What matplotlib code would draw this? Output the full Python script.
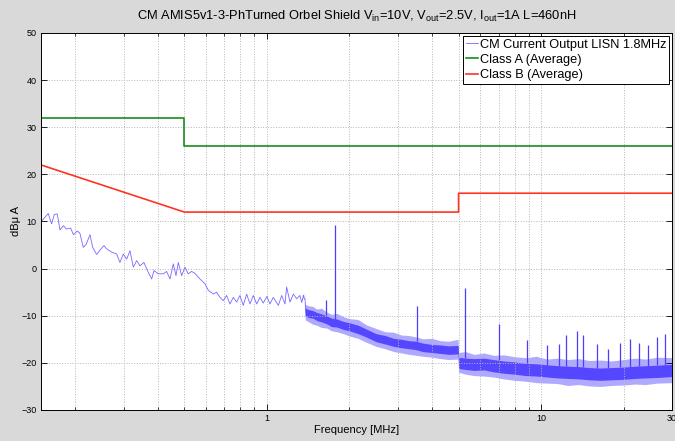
import numpy as np
import matplotlib
matplotlib.use("Agg")
import matplotlib.pyplot as plt
from matplotlib.ticker import FixedLocator, NullFormatter, LogLocator

plt.rcParams['font.family'] = ['Liberation Sans', 'DejaVu Sans']
plt.rcParams['mathtext.fontset'] = 'custom'
plt.rcParams['mathtext.rm'] = 'Liberation Sans'

## limit lines (MHz, dBuA)
classA_f = [0.15, 0.5, 0.5, 30]
classA_db = [32, 32, 26, 26]
classB_f = [0.15, 0.5, 5, 5, 30]
classB_db = [22, 12, 12, 16, 16]

lf_f = [0.15, 0.153, 0.1595, 0.164, 0.1678, 0.172, 0.176, 0.181, 0.186, 0.1924,
        0.197, 0.2035, 0.208, 0.214, 0.219, 0.2264, 0.2315, 0.2394, 0.246, 0.2545,
        0.2603, 0.2715, 0.2833, 0.2911, 0.2994, 0.308, 0.3167, 0.3257, 0.335, 0.3445,
        0.356, 0.3694, 0.380, 0.3876, 0.4018, 0.419, 0.4309, 0.4432, 0.4557, 0.466,
        0.4753, 0.4887, 0.5026, 0.5168, 0.5315, 0.5465, 0.570, 0.5944, 0.6113, 0.6375,
        0.6556, 0.6742, 0.6934, 0.7131, 0.7333, 0.7541, 0.7755, 0.7975, 0.8202, 0.8435,
        0.8674, 0.892, 0.9175, 0.9436, 0.9703, 1.0, 1.026, 1.055, 1.101, 1.132,
        1.164, 1.180, 1.214, 1.249, 1.284, 1.320, 1.34, 1.36, 1.37]
lf_db = [10.0, 10.5, 11.7, 9.5, 11.5, 11.6, 8.2, 9.1, 8.4, 8.6,
         7.2, 8.0, 7.5, 4.5, 5.1, 7.2, 4.5, 3.0, 3.9, 4.9,
         4.2, 3.5, 3.1, 1.3, 3.1, 2.0, 3.8, 0.3, 1.7, 0.6,
         1.3, -0.8, -2.2, -0.4, -1.1, -1.1, -0.6, -2.2, 1.0, -1.5,
         1.3, -1.5, 0.3, -1.1, -0.6, -1.0, -2.2, -3.2, -4.6, -5.4,
         -5.0, -6.1, -6.8, -5.7, -7.5, -6.1, -7.1, -5.7, -7.8, -5.4,
         -7.5, -5.7, -7.5, -6.1, -7.3, -5.9, -7.5, -6.1, -7.8, -5.7,
         -7.5, -3.9, -7.1, -5.4, -6.4, -5.7, -7.2, -5.6, -6.6]

## dense high frequency part: noise band (outer / inner envelopes)
hf_f = [1.37, 1.38, 1.42, 1.47, 1.52, 1.58, 1.65, 1.72, 1.80, 1.9,
        2.0, 2.15, 2.3, 2.5, 2.7, 2.9, 3.1, 3.3, 3.5, 3.7,
        4.0, 4.3, 4.6, 4.98, 5.0, 5.3, 5.7, 6.2, 6.7, 7.3,
        8.0, 8.8, 9.6, 10.5, 11.5, 12.5, 13.7, 15.0, 16.5, 18.0,
        20.0, 22.0, 24.0, 26.5, 30.0]
hf_inner_lo = [-7.4, -10.0, -10.4, -10.5, -11.0, -11.3, -11.7, -12.3, -12.4, -12.9,
               -13.2, -13.8, -14.5, -15.5, -16.0, -16.5, -16.8, -17.0, -17.2, -17.6,
               -17.8, -18.0, -18.2, -18.1, -21.2, -21.4, -21.6, -21.5, -21.9, -22.2,
               -22.4, -22.7, -22.8, -23.0, -23.2, -23.3, -23.4, -23.6, -23.7, -23.6,
               -23.5, -23.3, -23.2, -23.1, -22.9]
hf_inner_hi = [-5.6, -8.4, -8.7, -8.9, -9.3, -9.6, -10.0, -10.5, -10.7, -11.2,
               -11.5, -12.0, -12.8, -13.8, -14.2, -14.8, -15.0, -15.3, -15.4, -15.8,
               -16.1, -16.2, -16.4, -16.3, -18.8, -19.0, -19.1, -19.0, -19.3, -19.6,
               -19.8, -20.1, -20.2, -20.4, -20.6, -20.7, -20.8, -21.0, -21.1, -21.0,
               -20.9, -20.7, -20.6, -20.5, -20.3]
hf_outer_lo = [-8.2, -10.9, -11.3, -11.8, -12.0, -12.5, -12.6, -13.2, -13.4, -13.8,
               -14.3, -14.8, -15.6, -16.5, -17.0, -17.6, -17.9, -18.2, -18.4, -18.6,
               -18.8, -19.1, -19.3, -19.2, -22.0, -22.4, -22.7, -22.8, -23.0, -23.4,
               -23.7, -23.9, -24.2, -24.3, -24.4, -24.8, -24.6, -24.9, -25.0, -24.8,
               -24.7, -24.5, -24.6, -24.3, -24.2]
hf_outer_hi = [-4.8, -7.6, -7.9, -8.0, -8.6, -8.4, -9.2, -9.7, -9.5, -10.2,
               -10.6, -10.8, -11.9, -12.7, -13.4, -13.5, -14.1, -14.2, -14.5, -14.9,
               -14.8, -15.3, -15.4, -15.0, -17.8, -17.6, -18.2, -17.9, -18.4, -18.3,
               -18.7, -18.9, -18.6, -19.2, -19.0, -19.3, -19.1, -19.5, -19.4, -19.6,
               -19.3, -19.0, -19.2, -18.8, -18.9]

## narrow spurs
spur_f = [1.64, 1.77, 3.52, 5.28, 7.04, 8.86, 10.5, 11.65, 12.3, 13.55,
          14.2, 15.95, 17.6, 19.4, 21.1, 22.8, 24.6, 26.4, 28.3]
spur_db = [-6.7, 9.2, -7.9, -4.2, -11.8, -15.1, -16.2, -16.0, -14.1, -13.3,
           -14.1, -16.1, -17.0, -15.7, -14.9, -15.7, -16.2, -14.6, -13.9]

blue = '#4b3cff'
fig = plt.figure(figsize=(6.75, 4.41), dpi=100, facecolor='#d9d9d9')
ax = fig.add_axes([0.0607, 0.0703, 0.9348, 0.8549])

ax.plot(lf_f, lf_db, color='#7668ff', lw=0.6, label='CM Current Output LISN 1.8MHz')
ax.fill_between(hf_f, hf_outer_lo, hf_outer_hi, color='#b0aaff', lw=0)
ax.fill_between(hf_f, hf_inner_lo, hf_inner_hi, color=blue, lw=0, alpha=0.9)
base = np.interp(np.log10(spur_f), np.log10(hf_f), hf_inner_hi)
ax.vlines(spur_f, base, spur_db, color=blue, lw=0.9)

ax.plot(classA_f, classA_db, color='#1a8c1a', lw=1.2, label='Class A (Average)')
ax.plot(classB_f, classB_db, color='#ff3322', lw=1.2, label='Class B (Average)')

ax.set_xscale('log')
ax.set_xlim(0.15, 30)
ax.set_ylim(-30, 50)
ax.set_yticks(np.arange(-30, 51, 10))
ax.xaxis.set_major_locator(FixedLocator([1, 10, 30]))
ax.set_xticklabels(['1', '10', '30'])
ax.xaxis.set_minor_locator(LogLocator(base=10, subs=np.arange(2, 10)))
ax.xaxis.set_minor_formatter(NullFormatter())
ax.tick_params(which='both', direction='in', top=True, right=True, labelsize=6.5, pad=3)
ax.tick_params(which='major', length=4, width=0.6)
ax.tick_params(which='minor', length=2, width=0.5)
ax.grid(True, which='both', axis='x', ls=':', color='#b5b5b5', lw=0.7)
ax.grid(True, which='major', axis='y', ls=':', color='#b5b5b5', lw=0.7)
for s in ax.spines.values():
    s.set_linewidth(0.7)

ax.set_xlabel('Frequency [MHz]', fontsize=8, labelpad=1)
ax.set_ylabel('dBμ A', fontsize=8)
ax.yaxis.set_label_coords(-0.032, 0.5)
ax.set_title(r'CM AMIS5v1-3-PhTurned Orbel Shield V$_{\mathrm{in}}$=10V, V$_{\mathrm{out}}$=2.5V, '
             r'I$_{\mathrm{out}}$=1A L=460nH', fontsize=9.3, pad=9.5)

leg = ax.legend(loc='upper right', fontsize=9.2, fancybox=False, framealpha=1,
                edgecolor='black', borderaxespad=0.2, handlelength=0.9,
                handletextpad=0.15, labelspacing=0.25, borderpad=0.25)
leg.get_frame().set_linewidth(0.7)

fig.savefig('out.png', dpi=100, facecolor=fig.get_facecolor())
